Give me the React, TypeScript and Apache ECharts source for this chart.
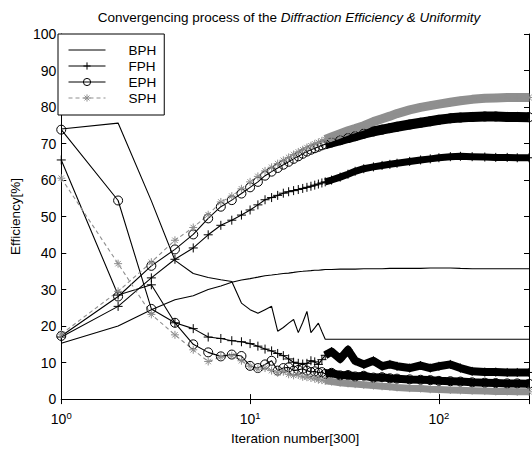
import React, { useEffect, useRef } from "react";
import * as echarts from "echarts";

const iters = [1, 2, 3, 4, 5, 6, 7, 8, 9, 10, 11, 12, 13, 14, 15, 16, 17, 18, 19, 20, 21, 22, 23, 24, 25,
  27, 30, 33, 36, 40, 45, 50, 55, 60, 70, 80, 90, 100, 115, 130, 150, 175, 200, 230, 260, 300];

// BPH
const bphEff = [15.3, 20, 24.5, 27.2, 28.3, 30, 31, 32, 32.6, 33, 33.4, 33.8, 34, 34.2, 34.4, 34.5, 34.7, 34.9, 35, 35.1, 35.2, 35.3, 35.3, 35.4, 35.5,
  35.5, 35.6, 35.6, 35.6, 35.7, 35.7, 35.7, 35.8, 35.8, 35.8, 35.8, 35.9, 35.9, 35.9, 35.8, 35.7, 35.7, 35.7, 35.7, 35.7, 35.7];
const bphUni = [74, 75.6, 54.3, 38, 34.4, 33.3, 32.7, 32.2, 26.3, 24.5, 23.5, 24.5, 25.4, 18.6, 19.6, 20.8, 21.8, 18.2, 21, 24, 18.2, 19.5, 20.8, 18.5, 16.4,
  16.4, 16.4, 16.4, 16.4, 16.4, 16.4, 16.4, 16.4, 16.4, 16.4, 16.4, 16.4, 16.4, 16.4, 16.4, 16.4, 16.4, 16.4, 16.4, 16.4, 16.4];

// FPH
const fphEff = [17, 25.4, 33.2, 38.3, 41.4, 45, 47.6, 49, 50.4, 51.8, 53.2, 54.6, 55.2, 55.8, 56.4, 56.8, 57.1, 57.4, 57.7, 58, 58.3, 58.6, 58.9, 59.2, 59.5,
  60, 60.8, 61.6, 62.4, 63.1, 63.6, 64, 64.3, 64.6, 65.1, 65.5, 65.8, 66.1, 66.4, 66.5, 66.4, 66.3, 66.2, 66.2, 66.1, 66.1];
const fphUni = [65.5, 28.5, 31.3, 20.9, 19.3, 17, 16.6, 16, 15.7, 15.2, 14.5, 13.7, 13.2, 12.5, 11.9, 11, 10.1, 9.8, 9.6, 9.8, 10.5, 10.2, 9.5, 10.8, 12,
  13, 11, 13.5, 10.5, 9.5, 10.5, 9, 9.5, 9, 8.5, 9.2, 8.5, 9, 9.5, 8.5, 7.6, 7.4, 7.4, 7.3, 7.3, 7.3];

// EPH
const ephEff = [17.3, 28.1, 36.5, 41, 45.1, 49.5, 52.7, 54.5, 56.3, 58, 59.5, 61.2, 62.3, 63.3, 64.2, 65, 65.8, 66.5, 67.2, 67.8, 68.3, 68.7, 69.1, 69.5, 69.8,
  70.3, 70.9, 71.5, 72, 72.7, 73.3, 73.8, 74.2, 74.6, 75.2, 75.7, 76.1, 76.5, 76.9, 77.1, 77.3, 77.4, 77.4, 77.3, 77.3, 77.2];
const ephUni = [73.8, 54.4, 24.7, 20.9, 15, 12.8, 11.7, 12.2, 11.8, 9.1, 8.5, 9.5, 10.5, 7.8, 8.5, 8.7, 7.8, 8, 8.3, 7.8, 7.4, 7.6, 7.2, 7.4, 6.9,
  7.2, 6.5, 6.6, 6.2, 6.4, 5.9, 6, 5.7, 5.6, 5.4, 5.3, 5.2, 5, 4.9, 4.8, 4.6, 4.5, 4.4, 4.3, 4.3, 4.2];

// SPH
const sphEff = [17.8, 29.5, 37.5, 43.5, 47, 50.5, 54, 55.6, 57.6, 59.5, 61, 62.5, 63.5, 64.5, 65.4, 66.2, 67, 67.7, 68.3, 68.9, 69.4, 69.9, 70.3, 70.7, 71.1,
  71.8, 72.7, 73.5, 74.1, 74.9, 76, 76.8, 77.5, 78.2, 79.2, 79.9, 80.4, 80.8, 81.3, 81.7, 82.1, 82.4, 82.5, 82.6, 82.6, 82.6];
const sphUni = [60.5, 37.1, 23.2, 17.6, 13.5, 10.3, 11.5, 11.9, 10.5, 9, 8.2, 8.5, 7.8, 7.2, 7.5, 6.8, 6.5, 6.6, 6.1, 6, 5.8, 5.6, 5.3, 5.2, 5,
  4.8, 4.5, 4.3, 4.1, 3.9, 3.7, 3.5, 3.4, 3.2, 3, 2.9, 2.7, 2.6, 2.5, 2.4, 2.3, 2.2, 2.1, 2.1, 2, 2];

const legendNames = ["BPH", "FPH", "EPH", "SPH"];
const yTicks = [0, 10, 20, 30, 40, 50, 60, 70, 80, 90, 100];

const FONT = "Liberation Sans, Arial, Helvetica, sans-serif";
const BLACK = "#000";
const GRAY = "#8f8f8f";

const PLUS = "path://M5,0L5,10M0,5L10,5";
const STAR = "path://M5,0L5,10M0,5L10,5M1.6,1.6L8.4,8.4M8.4,1.6L1.6,8.4";
const CIRC = "path://M10,5A5,5,0,1,1,0,5A5,5,0,1,1,10,5Z";

const pairs = (ys: number[]) => iters.map((x, i) => [x, ys[i]]);
const tail = (ys: number[]) => pairs(ys).filter((p) => p[0] >= 25);

function lineSeries(name: string, ys: number[], symbol: string, color: string, dashed: boolean, size: number) {
  const noSym = symbol === "none";
  return {
    type: "line",
    name,
    data: pairs(ys),
    symbol,
    symbolSize: size,
    showSymbol: !noSym,
    lineStyle: { color, width: 1.1, type: dashed ? [4, 3] : "solid" },
    itemStyle: {
      color: noSym || symbol === CIRC ? "transparent" : color,
      borderColor: noSym ? "transparent" : color,
      borderWidth: noSym ? 0 : 1,
    },
    emphasis: { disabled: true },
    silent: true,
    z: 3,
  };
}

function band(ys: number[], color: string, width: number) {
  return {
    type: "line",
    name: "_band",
    data: tail(ys),
    symbol: "none",
    lineStyle: { color, width, cap: "butt", join: "round" },
    emphasis: { disabled: true },
    silent: true,
    z: 2,
  };
}

export default function App() {
  const ref = useRef<HTMLDivElement>(null);
  useEffect(() => {
    if (!ref.current) return;
    const chart = echarts.init(ref.current, undefined, { renderer: "svg" });
    const logLabel = (v: number) => {
      const e = Math.log10(v);
      if (Math.abs(e - Math.round(e)) > 1e-6) return "";
      return "{b|10}{s|" + Math.round(e) + "}";
    };
    const xBase = {
      type: "log",
      logBase: 10,
      min: 1,
      max: 300,
      splitLine: { show: false },
      minorTick: { show: false },
      axisLine: { show: true, lineStyle: { color: BLACK, width: 1 } },
      axisTick: { show: true, inside: true, length: 5, lineStyle: { color: BLACK } },
    };
    const yBase = {
      type: "value",
      min: 0,
      max: 100,
      interval: 10,
      splitLine: { show: false },
      axisLine: { show: true, lineStyle: { color: BLACK, width: 1 } },
      axisTick: { show: true, inside: true, length: 5, lineStyle: { color: BLACK } },
    };
    chart.setOption({
      animation: false,
      backgroundColor: "#fff",
      textStyle: { fontFamily: FONT },
      grid: { left: 58, right: 2, top: 34, bottom: 46, show: false },
      graphic: [
        {
          type: "text",
          x: 289,
          y: 17,
          style: {
            text: "{n|Convergencing process of the }{i|Diffraction Efficiency & Uniformity}",
            align: "center",
            verticalAlign: "middle",
            rich: {
              n: { fontSize: 13.5, fontFamily: FONT, fill: BLACK },
              i: { fontSize: 13.5, fontFamily: FONT, fontStyle: "italic", fill: BLACK },
            },
          },
        },
      ],
      legend: {
        data: legendNames,
        orient: "vertical",
        left: 58,
        top: 34,
        backgroundColor: "#fff",
        borderColor: BLACK,
        borderWidth: 1,
        borderRadius: 0,
        padding: [9, 8, 10, 10],
        itemWidth: 37,
        itemHeight: 9,
        itemGap: 2,
        selectedMode: false,
        lineStyle: { width: 1 },
        itemStyle: { borderWidth: 1 },
        textStyle: { fontSize: 13.5, color: BLACK, fontFamily: FONT, padding: [0, 0, 0, 18] },
        z: 10,
      },
      xAxis: [
        {
          ...xBase,
          position: "bottom",
          name: "Iteration number[300]",
          nameLocation: "middle",
          nameGap: 29,
          nameTextStyle: { fontSize: 13.5, color: BLACK, fontFamily: FONT, verticalAlign: "top" },
          axisLabel: {
            show: true,
            margin: 11,
            color: BLACK,
            formatter: logLabel,
            rich: {
              b: { fontSize: 14, fontFamily: FONT, color: BLACK, verticalAlign: "bottom" },
              s: { fontSize: 9.5, fontFamily: FONT, color: BLACK, verticalAlign: "top", padding: [0, 0, 6, 0] },
            },
          },
        },
        { ...xBase, position: "top", axisLabel: { show: false } },
      ],
      yAxis: [
        {
          ...yBase,
          position: "left",
          name: "Efficiency[%]",
          nameLocation: "middle",
          nameGap: 36,
          nameTextStyle: { fontSize: 13.5, color: BLACK, fontFamily: FONT },
          axisLabel: { show: true, margin: 5, fontSize: 14, color: BLACK, fontFamily: FONT, customValues: yTicks },
        },
        { ...yBase, position: "right", axisLabel: { show: false } },
      ],
      series: [
        band(fphEff, BLACK, 7),
        band(ephEff, BLACK, 10),
        band(sphEff, GRAY, 9),
        band(fphUni, BLACK, 8),
        band(ephUni, BLACK, 8),
        band(sphUni, GRAY, 7),
        lineSeries("BPH", bphEff, "none", BLACK, false, 0),
        lineSeries("BPH", bphUni, "none", BLACK, false, 0),
        lineSeries("FPH", fphEff, PLUS, BLACK, false, 9),
        lineSeries("FPH", fphUni, PLUS, BLACK, false, 9),
        lineSeries("EPH", ephEff, CIRC, BLACK, false, 9),
        lineSeries("EPH", ephUni, CIRC, BLACK, false, 9),
        lineSeries("SPH", sphEff, STAR, GRAY, true, 8),
        lineSeries("SPH", sphUni, STAR, GRAY, true, 8),
      ],
    });
    return () => chart.dispose();
  }, []);
  return (
    <div
      ref={ref}
      style={{ position: "fixed", left: 0, top: 0, width: 532, height: 450, background: "#fff" }}
    />
  );
}
